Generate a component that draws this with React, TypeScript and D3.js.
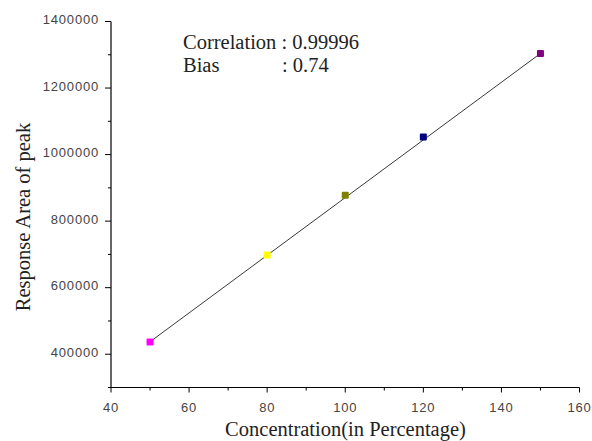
import React from "react";
import * as d3 from "d3";

const concentrations = [50, 80, 100, 120, 150];
const responses = [437000, 698000, 878000, 1053000, 1304000];
const pointColors = ["#ff00ff", "#ffff00", "#808000", "#000080", "#800080"];
const xTicks = [40, 60, 80, 100, 120, 140, 160];
const xMinor = [50, 70, 90, 110, 130, 150];
const yTicks = [400000, 600000, 800000, 1000000, 1200000, 1400000];
const yMinor = [300000, 500000, 700000, 900000, 1100000, 1300000];
const fitLine = [
  [50, 437500],
  [150, 1304000],
];

export default function App() {
  const W = 592, H = 441;
  const x = d3.scaleLinear().domain([40, 160]).range([111, 579.5]);
  const y = d3.scaleLinear().domain([300000, 1400000]).range([387.5, 21.5]);
  const line = d3.line<number[]>().x((d) => x(d[0])).y((d) => y(d[1]));
  const tickFont = "Liberation Sans, Arial, sans-serif";
  const serif = "Liberation Serif, Times New Roman, serif";
  const ms = 7;
  const fs = 20.5;
  return (
    <svg width={W} height={H} style={{ position: "absolute", left: 0, top: 0, background: "#fff" }}>
      {/* axes */}
      <line x1={x(40)} x2={x(40)} y1={y(1400000)} y2={y(300000)} stroke="#000" strokeWidth={1.2} />
      <line x1={x(40)} x2={x(160)} y1={y(300000)} y2={y(300000)} stroke="#000" strokeWidth={1.2} />
      {yTicks.map((t) => (
        <g key={"y" + t}>
          <line x1={x(40) - 6} x2={x(40)} y1={y(t)} y2={y(t)} stroke="#000" />
          <text x={x(40) - 12} y={y(t)} dy="0.2em" textAnchor="end" fontSize={13} letterSpacing={0.8} fontFamily={tickFont} fill="#444">
            {t}
          </text>
        </g>
      ))}
      {yMinor.map((t) => (
        <line key={"ym" + t} x1={x(40) - 3} x2={x(40)} y1={y(t)} y2={y(t)} stroke="#000" />
      ))}
      {xTicks.map((t) => (
        <g key={"x" + t}>
          <line x1={x(t)} x2={x(t)} y1={y(300000)} y2={y(300000) + 5} stroke="#000" />
          <text x={x(t)} y={412} textAnchor="middle" fontSize={13} letterSpacing={0.8} fontFamily={tickFont} fill="#444">
            {t}
          </text>
        </g>
      ))}
      {xMinor.map((t) => (
        <line key={"xm" + t} x1={x(t)} x2={x(t)} y1={y(300000)} y2={y(300000) + 3} stroke="#000" />
      ))}
      {/* fit line */}
      <path d={line(fitLine) || ""} fill="none" stroke="#222" strokeWidth={0.9} />
      {/* points */}
      {concentrations.map((c, i) => (
        <rect
          key={"p" + i}
          x={x(c) - ms / 2}
          y={y(responses[i]) - ms / 2}
          width={ms}
          height={ms}
          rx={1}
          fill={pointColors[i]}
        />
      ))}
      {/* annotation */}
      <text x={183} y={49} fontSize={fs} fontFamily={serif} fill="#222">Correlation : 0.99996</text>
      <text x={183} y={72} fontSize={fs} fontFamily={serif} fill="#222">Bias</text>
      <text x={282} y={72} fontSize={fs} fontFamily={serif} fill="#222">: 0.74</text>
      {/* titles */}
      <text x={345.5} y={435.5} textAnchor="middle" fontSize={fs} fontFamily={serif} fill="#222">
        Concentration(in Percentage)
      </text>
      <text
        transform={`translate(29.5,217) rotate(-90)`}
        textAnchor="middle"
        fontSize={fs}
        fontFamily={serif}
        fill="#222"
      >
        Response Area of peak
      </text>
    </svg>
  );
}
